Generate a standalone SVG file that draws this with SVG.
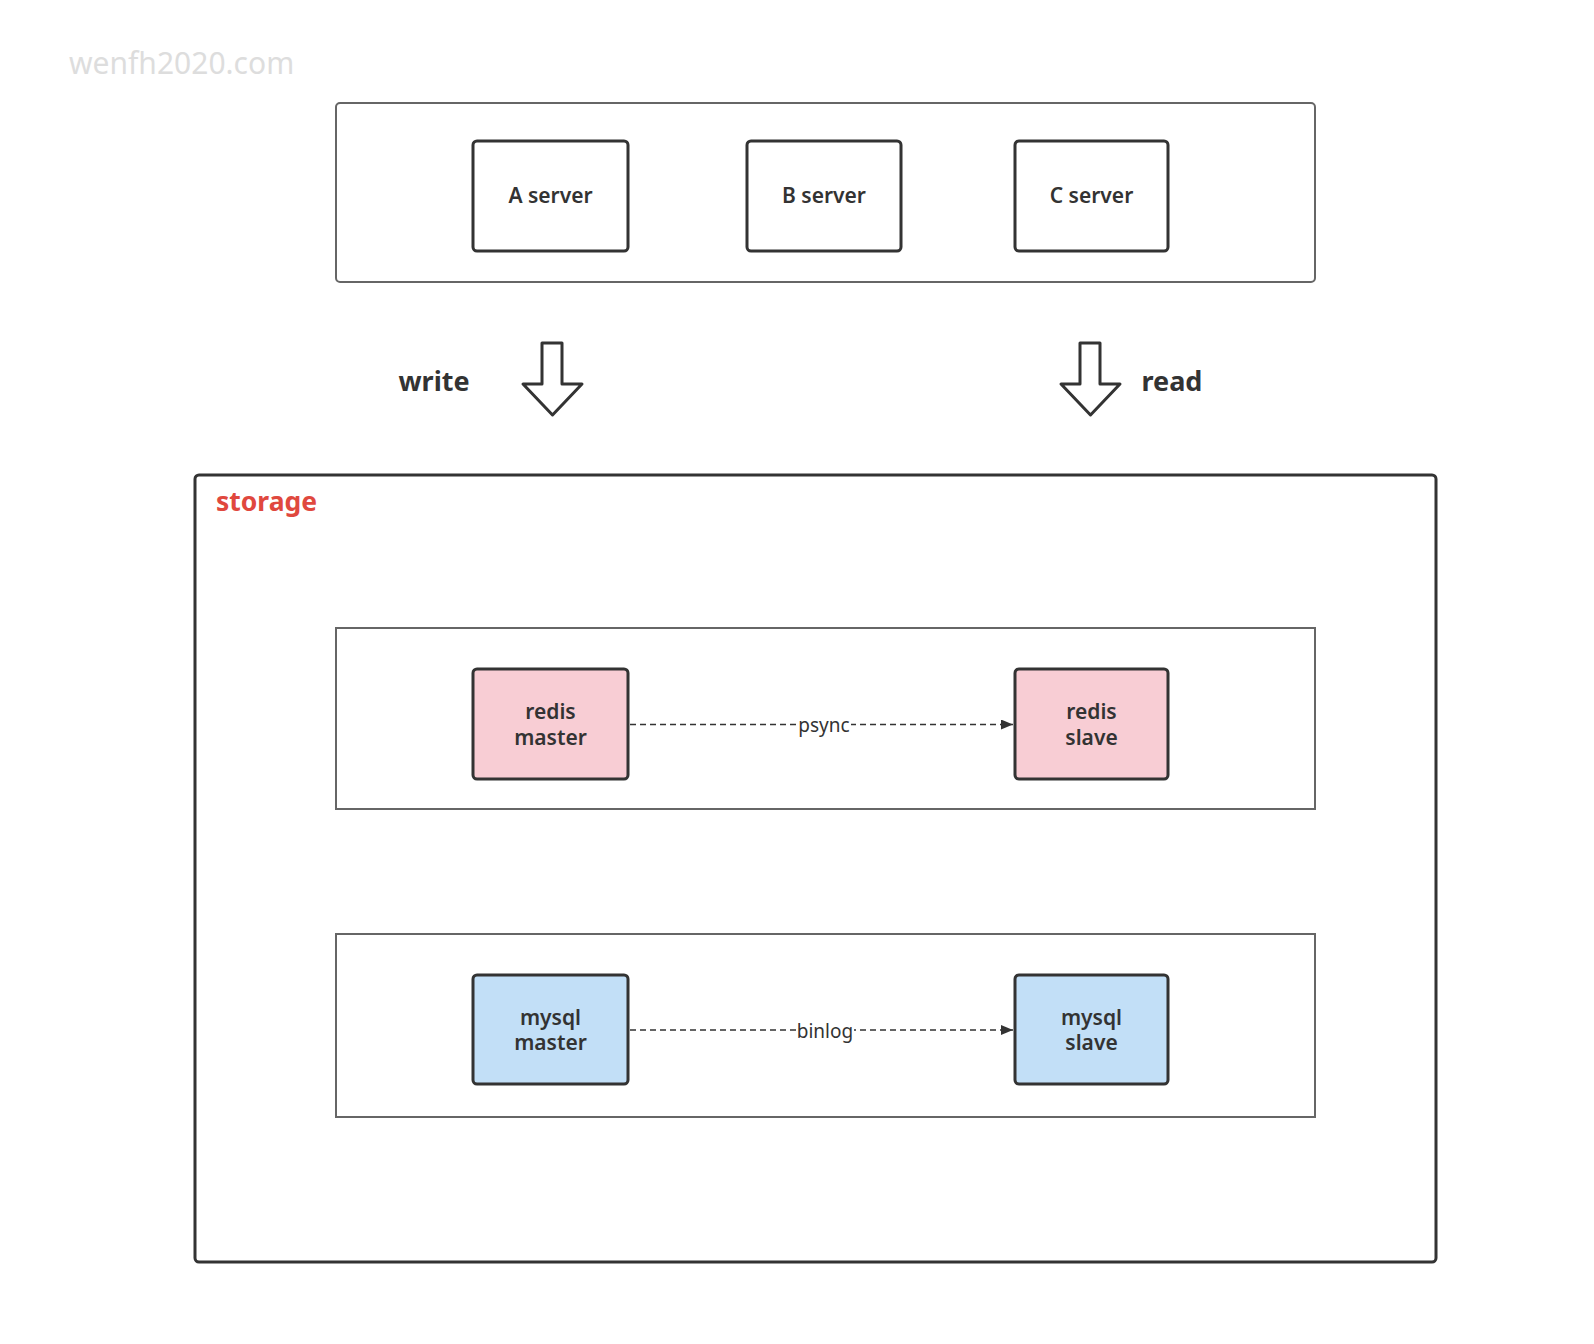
<svg xmlns="http://www.w3.org/2000/svg" width="1594" height="1344" viewBox="0 0 1594 1344">
<style>
.grp{fill:#fff;stroke:#666;stroke-width:2}
.node{stroke:#333;stroke-width:3}
.t{font-family:"Noto Sans","DejaVu Sans",sans-serif;fill:#333;text-anchor:middle}
.nt{font-size:21px;font-weight:600}
.big{font-size:27px;font-weight:700}
.lbl{font-family:"Noto Sans","DejaVu Sans",sans-serif;font-size:19px;fill:#333;text-anchor:middle}
.conn{stroke:#333;stroke-width:1.5;stroke-dasharray:6 4;fill:none}
.arr{fill:#fff;stroke:#333;stroke-width:3;stroke-linejoin:round}
</style>
<defs>
<marker id="ah" viewBox="0 0 12 10" refX="12" refY="5" markerWidth="12" markerHeight="10" markerUnits="userSpaceOnUse" orient="auto">
<path d="M0,0 L12,5 L0,10 z" fill="#333"/>
</marker>
</defs>
<rect width="1594" height="1344" fill="#fff"/>
<text x="69" y="74" font-family="Noto Sans,DejaVu Sans,sans-serif" font-size="30" fill="#ddd">wenfh2020.com</text>

<g id="servers">
<rect class="grp" x="336" y="103" width="979" height="179" rx="4"/>
</g>
<g id="a-server"><rect class="node" fill="#fff" x="473" y="141" width="155" height="110" rx="4"/><text class="t nt" x="550.5" y="203">A server</text></g>
<g id="b-server"><rect class="node" fill="#fff" x="747" y="141" width="154" height="110" rx="4"/><text class="t nt" x="824" y="203">B server</text></g>
<g id="c-server"><rect class="node" fill="#fff" x="1015" y="141" width="153" height="110" rx="4"/><text class="t nt" x="1091.5" y="203">C server</text></g>

<g id="write">
<path class="arr" d="M542,343 H562 V384 H582 L552.5,415 L523,384 H542 Z"/>
<text class="t big" x="434" y="391">write</text>
</g>
<g id="read">
<path class="arr" d="M1080,343 H1100 V384 H1120 L1090.5,415 L1061,384 H1080 Z"/>
<text class="t big" x="1172" y="391">read</text>
</g>

<g id="storage">
<rect fill="#fff" stroke="#333" stroke-width="3" x="195" y="475" width="1241" height="787" rx="4"/>
<text x="216" y="511" font-family="Noto Sans,DejaVu Sans,sans-serif" font-size="26.5" font-weight="700" fill="#e0483e">storage</text>
</g>
<g id="redis-group"><rect class="grp" x="336" y="628" width="979" height="181"/></g>
<g id="mysql-group"><rect class="grp" x="336" y="934" width="979" height="183"/></g>

<g id="redis-master"><rect class="node" fill="#f8cdd4" x="473" y="669" width="155" height="110" rx="4"/><text class="t nt" x="550.5" y="719">redis</text><text class="t nt" x="550.5" y="745">master</text></g>
<g id="redis-slave"><rect class="node" fill="#f8cdd4" x="1015" y="669" width="153" height="110" rx="4"/><text class="t nt" x="1091.5" y="719">redis</text><text class="t nt" x="1091.5" y="745">slave</text></g>
<g id="mysql-master"><rect class="node" fill="#c2dff7" x="473" y="975" width="155" height="109" rx="4"/><text class="t nt" x="550.5" y="1025">mysql</text><text class="t nt" x="550.5" y="1050">master</text></g>
<g id="mysql-slave"><rect class="node" fill="#c2dff7" x="1015" y="975" width="153" height="109" rx="4"/><text class="t nt" x="1091.5" y="1025">mysql</text><text class="t nt" x="1091.5" y="1050">slave</text></g>

<g id="connectors">
<path class="conn" d="M630,724.5 H1013" marker-end="url(#ah)"/>
<rect x="797" y="712" width="54" height="24" fill="#fff"/>
<text class="lbl" x="824" y="732">psync</text>
<path class="conn" d="M630,1030 H1013" marker-end="url(#ah)"/>
<rect x="796" y="1018" width="58" height="26" fill="#fff"/>
<text class="lbl" x="825" y="1038">binlog</text>
</g>
</svg>
